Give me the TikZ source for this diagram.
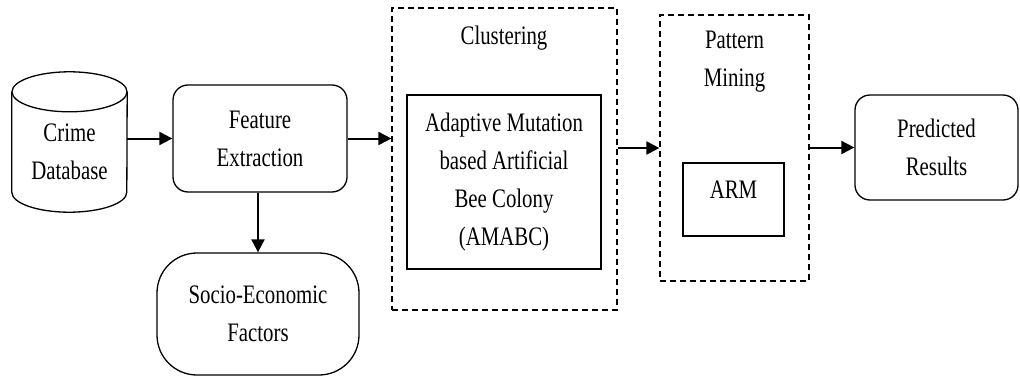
\documentclass[tikz,border=0pt]{standalone}
\usepackage{fontspec}
\setmainfont[FakeStretch=0.78]{Liberation Serif}
\usetikzlibrary{arrows.meta}
\begin{document}
\begin{tikzpicture}[
  x=1pt, y=1pt,
  every node/.style={font=\fontsize{26.7}{38}\selectfont, align=center, inner sep=0pt},
  roundbox/.style={draw, line width=1.3pt, rounded corners=15pt},
  plainbox/.style={draw, line width=1.3pt},
  stadium/.style={draw, line width=1.3pt, rounded corners=40pt},
  group/.style={draw, line width=1.2pt, dash pattern=on 6pt off 4pt},
  flow/.style={line width=2pt, -{Triangle[length=13pt,width=13pt]}}
]
\useasboundingbox (0,0) rectangle (1020,376);

% database cylinder
\node[minimum width=115pt, minimum height=100pt] (db) at (69.5,234) {};
\draw[line width=1.3pt] (db.north west) -- (db.south west)
  arc[start angle=180, end angle=360, x radius=57.5pt, y radius=20pt] -- (db.north east);
\draw[line width=1.3pt] (db.north) ellipse[x radius=57.5pt, y radius=20pt];
\node (dbtext) at (69.5,224.5) {Crime\\Database};

% processing steps
\node[roundbox, minimum width=174pt, minimum height=107pt] (feat) at (260,237.5) {Feature\\Extraction};
\node[stadium, minimum width=202pt, minimum height=122pt] (socio) at (258,62) {Socio-Economic\\Factors};

% clustering stage
\node[group, minimum width=225pt, minimum height=302pt] (clu) at (504.5,217) {};
\node (clut) at (504,338) {Clustering};
\node[plainbox, minimum width=194pt, minimum height=174pt] (amabc) at (504,194)
  {Adaptive Mutation\\based Artificial\\Bee Colony\\(AMABC)};

% pattern mining stage
\node[group, minimum width=149pt, minimum height=266pt] (pat) at (734.5,228) {};
\node (patt) at (734.5,314) {Pattern\\Mining};
\node[plainbox, minimum width=101pt, minimum height=73pt, text depth=19pt] (arm) at (733.5,176.5) {ARM};

% output
\node[roundbox, minimum width=163pt, minimum height=105pt] (pred) at (936.5,228.5) {Predicted\\Results};

% connectors
\draw[flow] (db.east |- feat.west) -- (feat.west);
\draw[flow] (feat.east) -- (feat.east -| clu.west);
\draw[flow] (socio.north |- feat.south) -- (socio.north);
\draw[flow] (clu.east |- pat.west) -- (pat.west);
\draw[flow] (pat.east |- pred.west) -- (pred.west);
\end{tikzpicture}
\end{document}
